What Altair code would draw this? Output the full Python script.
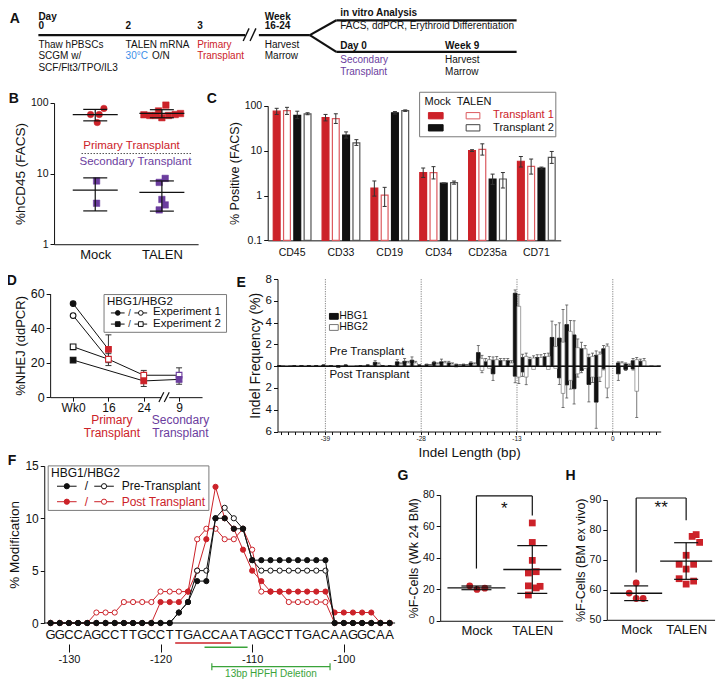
import altair as alt
import pandas as pd

FONT = "Liberation Sans"
INK = "#111111"
RED = "#cc2229"
RED_OPEN = "#dc5a5f"
PURPLE = "#6b3d9e"
BLUE = "#3b8ee8"
GREEN = "#3aa33a"
FRAME = "#7a7a7a"
ERR = "#333333"

W, H = 708, 672


def X(rx):
    return round(0.98 * (rx - 2), 2)


def Y(ry):
    return round(0.968 * ry + 1, 2)


dummy = pd.DataFrame({"d": [0]})


def ptext(txt, rx, ry, size=11, color=INK, weight="normal", align="left"):
    return alt.Chart(dummy).mark_text(
        text=txt, font=FONT, fontSize=size, color=color, fontWeight=weight,
        align=align, baseline="middle").encode(x=alt.value(X(rx)), y=alt.value(Y(ry)))


def pline(x1, y1, x2, y2, color=INK, width=1.0, dash=None):
    m = dict(color=color, strokeWidth=width)
    if dash:
        m["strokeDash"] = dash
    return alt.Chart(dummy).mark_rule(**m).encode(
        x=alt.value(X(x1)), y=alt.value(Y(y1)), x2=alt.value(X(x2)), y2=alt.value(Y(y2)))


def prect(x1, y1, x2, y2, fill="white", stroke=None, width=1.0):
    m = dict(fill=fill, fillOpacity=1)
    if stroke:
        m.update(stroke=stroke, strokeWidth=width)
    return alt.Chart(dummy).mark_rect(**m).encode(
        x=alt.value(X(x1)), y=alt.value(Y(y1)), x2=alt.value(X(x2)), y2=alt.value(Y(y2)))


def ppoint(rx, ry, shape, fill, stroke, size=30):
    return alt.Chart(dummy).mark_point(
        shape=shape, size=size, filled=True, fill=fill, stroke=stroke,
        strokeWidth=1, opacity=1).encode(x=alt.value(X(rx)), y=alt.value(Y(ry)))


def yaxis(rx, **k):
    base = dict(orient="left", offset=-X(rx), tickSize=4, labelPadding=2,
                titlePadding=3, labelFontSize=11, titleFontSize=13)
    base.update(k)
    return alt.Axis(**base)


def xaxis(ry, **k):
    base = dict(orient="bottom", offset=round(Y(ry) - H, 2), tickSize=4, labelPadding=2,
                labelFontSize=11, titleFontSize=13, labelAngle=0, title=None)
    base.update(k)
    return alt.Axis(**base)


# ======================= Panel A : timeline =======================
A_seg_x1 = [33, 258, 310, 337, 310, 337]
A_seg_y1 = [27, 27, 27, 11.7, 27, 44.3]
A_seg_x2 = [244, 310, 337, 521, 337, 521]
A_seg_y2 = [27, 27, 11.7, 11.7, 44.3, 44.3]
A_brk_x1 = [242, 249]
A_brk_y1 = [33, 33]
A_brk_x2 = [248, 255]
A_brk_y2 = [20, 20]
A_text = ["Day", "0", "2", "3", "Week", "16-24",
          "Thaw hPBSCs", "SCGM w/", "SCF/Flt3/TPO/IL3",
          "TALEN mRNA", "30°C", "O/N",
          "Primary", "Transplant", "Harvest", "Marrow",
          "in vitro Analysis", "FACS, ddPCR, Erythroid Differentiation",
          "Day 0", "Week 9", "Secondary", "Transplant", "Harvest", "Marrow"]
A_tx = [33, 33, 122, 195, 264, 264, 33, 33, 33, 122, 122, 149, 195, 195, 264, 264,
        341, 341, 341, 448, 341, 341, 448, 448]
A_ty = [8, 18, 18, 18, 8, 18, 37, 49, 61, 37, 49, 49, 37, 49, 37, 49,
        4, 18, 38, 38, 53, 65, 53, 65]
A_tcol = [INK] * 10 + [BLUE, INK, RED, RED, INK, INK, INK, INK, INK, INK,
                       PURPLE, PURPLE, INK, INK]
A_tbold = [1, 1, 1, 1, 1, 1, 0, 0, 0, 0, 0, 0, 0, 0, 0, 0, 1, 0, 1, 1, 0, 0, 0, 0]

sxA = alt.Scale(domain=[0, 726], range=[X(0), X(726)])
syA = alt.Scale(domain=[0, 80], range=[Y(0), Y(80)])
dfA_seg = pd.DataFrame(dict(x1=A_seg_x1, y1=A_seg_y1, x2=A_seg_x2, y2=A_seg_y2))
dfA_brk = pd.DataFrame(dict(x1=A_brk_x1, y1=A_brk_y1, x2=A_brk_x2, y2=A_brk_y2))
dfA_txt = pd.DataFrame(dict(t=A_text, x=A_tx, y=A_ty, c=A_tcol, b=A_tbold))


def a_rule(df, width):
    return alt.Chart(df).mark_rule(color=INK, strokeWidth=width).encode(
        x=alt.X("x1:Q", scale=sxA, axis=None), y=alt.Y("y1:Q", scale=syA, axis=None),
        x2="x2:Q", y2="y2:Q")


def a_text(bold):
    return alt.Chart(dfA_txt).transform_filter(f"datum.b == {bold}").mark_text(
        font=FONT, fontSize=10, align="left", baseline="middle",
        fontWeight="bold" if bold else "normal").encode(
        x=alt.X("x:Q", scale=sxA, axis=None), y=alt.Y("y:Q", scale=syA, axis=None),
        text="t:N", color=alt.Color("c:N", scale=None))


panelA = [a_rule(dfA_seg, 2.2), a_rule(dfA_brk, 1.4), a_text(1), a_text(0)]

# ======================= Panel B : %hCD45 =======================
B_mock_pri = [83.6, 68.5, 68.5, 52.7]
B_mock_pri_dx = [0.13, -0.07, 0.06, 0.03]
B_talen_pri = [67.9, 66.4, 66.4, 76.9, 61.7, 93.0, 66.4, 68.5, 70.7]
B_talen_pri_dx = [-0.27, -0.18, -0.09, -0.05, 0.0, 0.06, 0.1, 0.2, 0.28]
B_mock_sec = [7.85, 3.8]
B_mock_sec_dx = [0.02, 0.02]
B_talen_sec = [8.55, 7.5, 4.3, 3.6, 3.06]
B_talen_sec_dx = [0.05, -0.04, 0.0, 0.05, -0.04]

rows = []
for grp, ph, vals, dxs, shp, col in [
        (0, "pri", B_mock_pri, B_mock_pri_dx, "circle", RED),
        (1, "pri", B_talen_pri, B_talen_pri_dx, "square", RED),
        (0, "sec", B_mock_sec, B_mock_sec_dx, "square", PURPLE),
        (1, "sec", B_talen_sec, B_talen_sec_dx, "square", PURPLE)]:
    for v, d in zip(vals, dxs):
        rows.append(dict(grp=grp, ph=ph, val=v, xp=grp + d, shp=shp, col=col))
dfB = pd.DataFrame(rows)
stB = dfB.groupby(["grp", "ph"])["val"].agg(["mean", "std"]).reset_index()
stB["lo"] = stB["mean"] - stB["std"]
stB["hi"] = stB["mean"] + stB["std"]

sxB = alt.Scale(domain=[-0.618, 1.544], range=[X(49), X(196)])
syB = alt.Scale(type="log", domain=[1, 100], range=[Y(243), Y(97)])
B_pts = alt.Chart(dfB).mark_point(filled=True, size=42, opacity=1, strokeWidth=0.5).encode(
    x=alt.X("xp:Q", scale=sxB, axis=xaxis(243, values=[0, 1], ticks=False, labelFontSize=13,
                                          labelPadding=4,
                                          labelExpr="datum.value == 0 ? 'Mock' : 'TALEN'")),
    y=alt.Y("val:Q", scale=syB, axis=yaxis(49, values=[1, 10, 100], format="d",
                                           title="%hCD45 (FACS)", titleFontSize=13.5,
                                           labelFontSize=10.5)),
    shape=alt.Shape("shp:N", scale=None), fill=alt.Fill("col:N", scale=None),
    stroke=alt.Stroke("col:N", scale=None))


def stat_layers(df, sx, sy, wmean, wcap):
    xs = alt.X("grp:Q", scale=sx, axis=None)
    return [
        alt.Chart(df).mark_rule(color=INK, strokeWidth=1.2).encode(
            x=xs, y=alt.Y("lo:Q", scale=sy, axis=None), y2="hi:Q"),
        alt.Chart(df).mark_tick(orient="horizontal", size=wmean, thickness=1.3, color=INK,
                                opacity=1).encode(x=xs, y=alt.Y("mean:Q", scale=sy, axis=None)),
        alt.Chart(df).mark_tick(orient="horizontal", size=wcap, thickness=1.2, color=INK,
                                opacity=1).encode(x=xs, y=alt.Y("lo:Q", scale=sy, axis=None)),
        alt.Chart(df).mark_tick(orient="horizontal", size=wcap, thickness=1.2, color=INK,
                                opacity=1).encode(x=xs, y=alt.Y("hi:Q", scale=sy, axis=None)),
    ]


panelB = [
    B_pts, *stat_layers(stB, sxB, syB, 45, 24),
    pline(77, 149.3, 190, 149.3, color="#555555", width=1, dash=[1.5, 1.5]),
    ptext("Primary Transplant", 128, 141.5, size=11.5, color=RED, align="center"),
    ptext("Secondary Transplant", 132, 158.5, size=11.5, color=PURPLE, align="center"),
]

# ======================= Panel C : FACS lineages =======================
C_cats = ["CD45", "CD33", "CD19", "CD34", "CD235a", "CD71"]
C_groups = ["Mock T1", "TALEN T1", "Mock T2", "TALEN T2"]
C_mock_t1 = [75.7, 54.5, 1.47, 3.25, 10.0, 5.8]
C_talen_t1 = [78.4, 51.8, 1.02, 3.25, 10.7, 4.45]
C_mock_t2 = [61.1, 22.2, 69.9, 1.88, 2.33, 4.1]
C_talen_t2 = [66.4, 14.9, 78.4, 1.93, 2.33, 7.1]
C_mock_t1_lo = [64.2, 46.1, 0.97, 2.53, 9.6, 4.31]
C_mock_t1_hi = [87.9, 64.2, 2.11, 4.1, 10.5, 7.45]
C_talen_t1_lo = [64.2, 40.4, 0.57, 2.34, 7.96, 3.0]
C_talen_t1_hi = [92.4, 66.4, 1.52, 4.4, 14.2, 6.5]
C_mock_t2_lo = [51.8, 19.1, 65.5, 1.86, 1.77, 3.9]
C_mock_t2_hi = [75.8, 26.2, 74.4, 1.9, 3.0, 4.3]
C_talen_t2_lo = [63.2, 13.1, 75.0, 1.79, 1.47, 5.2]
C_talen_t2_hi = [69.9, 17.6, 81.0, 2.1, 3.25, 9.6]
C_fill = ["#cc2229", "white", "#111111", "white"]
C_stroke = ["#cc2229", RED_OPEN, "#111111", "#555555"]

rows = []
for gi, (g, v, lo, hi) in enumerate(zip(
        C_groups, [C_mock_t1, C_talen_t1, C_mock_t2, C_talen_t2],
        [C_mock_t1_lo, C_talen_t1_lo, C_mock_t2_lo, C_talen_t2_lo],
        [C_mock_t1_hi, C_talen_t1_hi, C_mock_t2_hi, C_talen_t2_hi])):
    for ci, c in enumerate(C_cats):
        rows.append(dict(cat=c, grp=g, val=v[ci], lo=lo[ci], hi=hi[ci], base=0.1,
                         fc=C_fill[gi], sc=C_stroke[gi]))
dfC = pd.DataFrame(rows)

sxC = alt.Scale(domain=C_cats, range=[X(267), X(566)], paddingInner=0, paddingOuter=0)
syC = alt.Scale(type="log", domain=[0.1, 100], range=[Y(239), Y(100)])
xoC = alt.XOffset("grp:N", scale=alt.Scale(domain=C_groups, paddingInner=0.335, paddingOuter=0.54))
C_bars = alt.Chart(dfC).mark_bar(strokeWidth=1.2, opacity=1).encode(
    x=alt.X("cat:N", scale=sxC,
            axis=xaxis(239, ticks=False, labelPadding=7, labelFontSize=10.5)),
    xOffset=xoC,
    y=alt.Y("val:Q", scale=syC,
            axis=yaxis(267, values=[0.1, 1, 10, 100], title="% Positive (FACS)",
                       labelFontSize=10.5, titleFontSize=12.5,
                       labelExpr="datum.value < 1 ? '0.1' : format(datum.value, 'd')")),
    y2="base:Q",
    fill=alt.Fill("fc:N", scale=None), stroke=alt.Stroke("sc:N", scale=None))
xC2 = alt.X("cat:N", scale=sxC, axis=None)
C_err = alt.Chart(dfC).mark_rule(color=ERR, strokeWidth=1).encode(
    x=xC2, xOffset=xoC, y=alt.Y("lo:Q", scale=syC, axis=None), y2="hi:Q")
C_cap1 = alt.Chart(dfC).mark_tick(orient="horizontal", size=4, thickness=1, color=ERR,
                                  opacity=1).encode(
    x=xC2, xOffset=xoC, y=alt.Y("hi:Q", scale=syC, axis=None))
C_cap2 = alt.Chart(dfC).mark_tick(orient="horizontal", size=4, thickness=1, color=ERR,
                                  opacity=1).encode(
    x=xC2, xOffset=xoC, y=alt.Y("lo:Q", scale=syC, axis=None))

panelC = [
    C_bars, C_err, C_cap1, C_cap2,
    prect(422, 86, 561, 132, fill="white", stroke=FRAME, width=1),
    ptext("Mock", 427, 96, size=11),
    ptext("TALEN", 460, 96, size=11),
    prect(431, 107, 446, 113.5, fill=RED, stroke=RED),
    prect(469.5, 107, 483.5, 113.5, fill="white", stroke=RED_OPEN),
    ptext("Transplant 1", 497, 110, size=11, color=RED),
    prect(431, 119.5, 446, 126, fill="#111111", stroke="#111111"),
    prect(469.5, 119.5, 483.5, 126, fill="white", stroke="#444444"),
    ptext("Transplant 2", 497, 122.5, size=11),
]

# ======================= Panel D : %NHEJ =======================
D_tp = ["Wk0", "16", "24", "9"]
D_line_series = ["L1", "L1", "L2", "L2", "L2", "L2", "L3", "L3", "L4", "L4", "L4"]
D_line_tp = ["Wk0", "16", "Wk0", "16", "24", "9", "Wk0", "16", "Wk0", "24", "9"]
D_line_val = [54.2, 27.7, 47.3, 22.0, 12.7, 12.7, 29.2, 22.0, 21.5, 9.4, 10.3]
D_mk_tp = ["Wk0", "Wk0", "Wk0", "Wk0", "16", "16", "24", "24", "9", "9"]
D_mk_val = [54.2, 47.3, 29.2, 21.5, 27.7, 22.0, 12.7, 9.4, 12.7, 10.3]
D_mk_shape = ["circle", "circle", "square", "square", "square", "square",
              "square", "square", "square", "square"]
D_mk_filled = [1, 0, 0, 1, 1, 0, 0, 1, 0, 1]
D_mk_color = [INK, INK, INK, INK, RED, RED, RED, RED, PURPLE, PURPLE]
D_err_tp = ["16", "16", "24", "24", "9", "9"]
D_err_lo = [20.0, 18.3, 10.0, 6.2, 9.0, 7.5]
D_err_hi = [36.1, 25.2, 15.5, 12.5, 17.0, 13.0]

dfD_line = pd.DataFrame(dict(s=D_line_series, tp=D_line_tp, val=D_line_val,
                             o=list(range(len(D_line_tp)))))
dfD_mk = pd.DataFrame(dict(tp=D_mk_tp, val=D_mk_val, shp=D_mk_shape,
                           fc=[c if f else "white" for c, f in zip(D_mk_color, D_mk_filled)],
                           sc=D_mk_color))
dfD_err = pd.DataFrame(dict(tp=D_err_tp, lo=D_err_lo, hi=D_err_hi))

sxD = alt.Scale(type="point", domain=D_tp, range=[X(45), X(200)], padding=0.65)
syD = alt.Scale(domain=[0, 60], range=[Y(401), Y(294)])
xD = alt.X("tp:N", scale=sxD, axis=None)
D_lines = alt.Chart(dfD_line).mark_line(color=INK, strokeWidth=1).encode(
    x=alt.X("tp:N", scale=sxD, axis=xaxis(401, labelFontSize=12, labelPadding=1)),
    y=alt.Y("val:Q", scale=syD, axis=yaxis(45, values=[0, 20, 40, 60], labelFontSize=12.5,
                                           title="%NHEJ (ddPCR)", titleFontSize=13)),
    detail="s:N", order="o:Q")
D_err = alt.Chart(dfD_err).mark_rule(color=ERR, strokeWidth=1).encode(
    x=xD, y=alt.Y("lo:Q", scale=syD, axis=None), y2="hi:Q")
D_cap1 = alt.Chart(dfD_err).mark_tick(orient="horizontal", size=6, thickness=1, color=ERR,
                                      opacity=1).encode(x=xD, y=alt.Y("lo:Q", scale=syD, axis=None))
D_cap2 = alt.Chart(dfD_err).mark_tick(orient="horizontal", size=6, thickness=1, color=ERR,
                                      opacity=1).encode(x=xD, y=alt.Y("hi:Q", scale=syD, axis=None))
D_mk = alt.Chart(dfD_mk).mark_point(filled=True, size=32, opacity=1, strokeWidth=1.1).encode(
    x=xD, y=alt.Y("val:Q", scale=syD, axis=None),
    shape=alt.Shape("shp:N", scale=None), fill=alt.Fill("fc:N", scale=None),
    stroke=alt.Stroke("sc:N", scale=None))

panelD = [
    D_lines, D_err, D_cap1, D_cap2, D_mk,
    prect(158.5, 398.5, 166.5, 403.5, fill="white"),
    pline(156, 406, 161, 396, width=1.2), pline(161.5, 406, 166.5, 396, width=1.2),
    ptext("Primary", 108, 425, size=12, color=RED, align="center"),
    ptext("Transplant", 108, 438.5, size=12, color=RED, align="center"),
    ptext("Secondary", 178, 425, size=12, color=PURPLE, align="center"),
    ptext("Transplant", 178, 438.5, size=12, color=PURPLE, align="center"),
    prect(100, 295, 225, 334, fill="white", stroke=FRAME),
    ptext("HBG1/HBG2", 103, 302.5, size=11.5),
    pline(107, 314, 121, 314, width=1), ppoint(114, 314, "circle", INK, INK, 22),
    ptext("/", 126, 314, size=9, align="center"),
    pline(131, 314, 144, 314, width=1), ppoint(137.5, 314, "circle", "white", INK, 22),
    ptext("Experiment 1", 150, 313.5, size=11.5),
    pline(107, 325.5, 121, 325.5, width=1), ppoint(114, 325.5, "square", INK, INK, 22),
    ptext("/", 126, 325.5, size=9, align="center"),
    pline(131, 325.5, 144, 325.5, width=1), ppoint(137.5, 325.5, "square", "white", INK, 22),
    ptext("Experiment 2", 150, 325.5, size=11.5),
]

# ======================= Panel E : indel spectrum =======================
E_idx = list(range(52))
E_tick_labels = {6: "-39", 19: "-28", 32: "-13", 45: "0"}
E_pre1 = [0.05, 0, 0.05, 0.05, 0.05, 0.05, 0.1, 0.05, 0.05, 0.1,
          0, 0.05, 0.1, 0.35, 0.05, 0.05, 0.4, 0.45, 0.55, 0.1,
          0.15, 0.35, 0.4, 0.3, 0.15, 0.15, 0.3, 1.25, 0.4, 0.55,
          0.5, 0.5, 6.7, 0.8, 0.62, 0.8, 0.86, 2.64, 2.58, 3.82,
          2.87, 1.6, 0.8, 1.0, 1.6, 0, 0.3, 0.2, 0.5, 0.45, 0, 0]
E_pre1_err = [0, 0, 0, 0, 0, 0, 0.05, 0, 0, 0.05,
              0, 0, 0.05, 0.15, 0, 0, 0.2, 0.25, 0.3, 0.05,
              0.05, 0.1, 0.25, 0.15, 0.05, 0.05, 0.1, 0.65, 0.3, 0.3,
              0.2, 0.2, 0.3, 0.3, 0.2, 0.25, 0.3, 1.5, 1.4, 1.8,
              1.3, 0.6, 0.3, 0.4, 0.3, 0, 0.1, 0.1, 0.2, 0.2, 0, 0]
E_pre2 = [0.05, 0.05, 0, 0, 0, 0, 0.05, 0, 0.05, 0,
          0.05, 0.05, 0.05, 0.2, 0, 0.05, 0.2, 0.3, 0.3, 0.05,
          0.1, 0.2, 0.3, 0.2, 0.1, 0.1, 0.2, 0.7, 0.6, 0.6,
          0.5, 0.3, 5.5, 0.9, 0.75, 0.8, 0.9, 1.8, 2.2, 3.2,
          1.7, 1.6, 0.9, 1.1, 1.84, 0, 0.3, 0.1, 0.6, 0.5, 0.05, 0.05]
E_pre2_err = [0, 0, 0, 0, 0, 0, 0, 0, 0, 0,
              0, 0, 0, 0.1, 0, 0, 0.1, 0.15, 0.15, 0,
              0.05, 0.1, 0.15, 0.1, 0.05, 0.05, 0.1, 0.3, 0.3, 0.3,
              0.2, 0.2, 1.1, 0.3, 0.2, 0.25, 0.3, 2.0, 3.0, 1.0,
              0.8, 0.3, 0.3, 0.2, 0.2, 0, 0.1, 0.1, 0.2, 0.2, 0, 0]
E_post1 = [0, 0, 0, 0, 0, 0, 0, 0, 0.1, 0,
           0, 0, 0, 0, 0, 0, 0, 0, 0, 0,
           0, 0, 0, 0, 0.05, 0, 0, 0, 0, 0.7,
           0, 0, 0.92, 0.53, 0, 0, 0, 0, 1.07, 1.72,
           2.07, 0.4, 1.68, 3.3, 0.24, 0, 0.7, 0.3, 0.25, 0, 0, 0]
E_post1_err = [0, 0, 0, 0, 0, 0, 0, 0, 0, 0,
               0, 0, 0, 0, 0, 0, 0, 0, 0, 0,
               0, 0, 0, 0, 0, 0, 0, 0, 0, 0.6,
               0, 0, 0.6, 0.4, 0, 0, 0, 0, 0.6, 1.2,
               1.4, 0.2, 1.6, 2.4, 0.1, 0, 0.6, 0.1, 0.1, 0, 0, 0]
E_post2 = [0, 0, 0, 0, 0, 0, 0, 0, 0, 0,
           0, 0, 0, 0, 0, 0, 0, 0, 0, 0,
           0, 0, 0, 0, 0, 0, 0, 0.4, 0.2, 0,
           0, 0, 1.0, 1.0, 0.3, 0, 0.3, 0.2, 2.5, 1.3,
           0.7, 0.2, 1.0, 1.0, 2.0, 0, 0, 0, 2.3, 0, 0, 0]
E_post2_err = [0, 0, 0, 0, 0, 0, 0, 0, 0, 0,
               0, 0, 0, 0, 0, 0, 0, 0, 0, 0,
               0, 0, 0, 0, 0, 0, 0, 0.2, 0, 0,
               0, 0, 0.6, 0.7, 0, 0, 0, 0, 1.3, 0.8,
               0.3, 0, 0.5, 0.4, 0.9, 0, 0, 0, 2.4, 0, 0, 0]
E_vlines = [6, 19, 32, 45]

rows = []
for ser, sign, vals, errs in [("HBG1", 1, E_pre1, E_pre1_err), ("HBG2", 1, E_pre2, E_pre2_err),
                              ("HBG1", -1, E_post1, E_post1_err), ("HBG2", -1, E_post2, E_post2_err)]:
    for i in E_idx:
        if vals[i] > 0:
            rows.append(dict(idx=i, ser=ser, val=sign * vals[i], tip=sign * (vals[i] + errs[i]),
                             err=errs[i], base=0,
                             fc=INK if ser == "HBG1" else "white",
                             sc=INK if ser == "HBG1" else "#8c8c8c"))
dfE = pd.DataFrame(rows)
dfE_err = dfE[dfE["err"] > 0]
dfE_v = pd.DataFrame(dict(idx=E_vlines))

sxE = alt.Scale(domain=E_idx, range=[X(277), X(668)], paddingInner=0, paddingOuter=0)
syE = alt.Scale(domain=[-6, 8], range=[Y(436.5), Y(279)])
xoE = alt.XOffset("ser:N", scale=alt.Scale(domain=["HBG1", "HBG2"], paddingInner=0, paddingOuter=0))
lab_expr = " : ".join([f"datum.value == {k} ? '{v}'" for k, v in E_tick_labels.items()]) + " : ''"
E_vl = alt.Chart(dfE_v).mark_rule(color="#777777", strokeWidth=0.9, strokeDash=[1.2, 1.2]).encode(
    x=alt.X("idx:O", scale=sxE,
            axis=xaxis(436.5, tickSize=3, labelFontSize=6.5, labelPadding=1, labelExpr=lab_expr,
                       title="Indel Length (bp)", titleFontSize=13.5, titlePadding=3)),
    y=alt.value(Y(279)), y2=alt.value(Y(436.5)))
E_bars = alt.Chart(dfE).mark_bar(strokeWidth=0.8, opacity=1).encode(
    x=alt.X("idx:O", scale=sxE, axis=None), xOffset=xoE,
    y=alt.Y("val:Q", scale=syE,
            axis=yaxis(277, values=[-6, -4, -2, 0, 2, 4, 6, 8], labelFontSize=11.5,
                       labelExpr="format(abs(datum.value), 'd')",
                       title="Indel Frequency (%)", titleFontSize=14)),
    y2="base:Q", fill=alt.Fill("fc:N", scale=None), stroke=alt.Stroke("sc:N", scale=None))
E_err = alt.Chart(dfE_err).mark_rule(color="#555555", strokeWidth=0.8).encode(
    x=alt.X("idx:O", scale=sxE, axis=None), xOffset=xoE,
    y=alt.Y("val:Q", scale=syE, axis=None), y2="tip:Q")
E_cap = alt.Chart(dfE_err).mark_tick(orient="horizontal", size=3, thickness=0.8, color="#555555",
                                     opacity=1).encode(
    x=alt.X("idx:O", scale=sxE, axis=None), xOffset=xoE, y=alt.Y("tip:Q", scale=syE, axis=None))

panelE = [
    E_vl, E_bars, E_err, E_cap,
    pline(277, 369, 668, 369, width=1.5),
    prect(330, 314.5, 339, 320.5, fill=INK, stroke=INK),
    ptext("HBG1", 340, 317.5, size=10.5),
    prect(330, 326, 339, 332, fill="white", stroke="#777777"),
    ptext("HBG2", 340, 329, size=10.5),
    ptext("Pre Transplant", 330, 354, size=11.5),
    ptext("Post Transplant", 330, 378, size=11.5),
]

# ======================= Panel F : modification profile =======================
F_pos = list(range(-132, -94))
F_seq = list("GGCCAGCCTTGCCTTGACCAATAGCCTTGACAAGGCAA")
F_pre_hbg1 = [0] * 14 + [1, 2, 4, 4, 10, 10, 9, 9, 6] + [6] * 8 + [0] * 7
F_pre_hbg2 = [0] * 14 + [1, 2, 5, 5, 10, 11, 10, 9, 6] + [5] * 8 + [0] * 7
F_post_hbg1 = [0] * 12 + [2, 2, 2, 3, 5, 8, 13, 10, 9, 7, 5, 4] + [3] * 7 + [1] * 5 + [0, 0]
F_post_hbg2 = [0] * 5 + [1] * 3 + [2] * 4 + [3] * 4 + [8, 9, 9, 8, 8, 9, 7, 3, 3, 3] + [2] * 5 + [0] * 7
F_red_bar = [-118.4, -112.3]
F_green_bar = [-115.2, -110.5]
F_hpfh = [-114.4, -101.5]

sxF = alt.Scale(domain=[-132.69, -94.4], range=[X(39), X(397)])
syF = alt.Scale(domain=[0, 15], range=[Y(634.3), Y(472)])
dfF = pd.DataFrame(dict(pos=F_pos, b=F_seq))


def f_series(vals, color, filled, first=False):
    d = pd.DataFrame(dict(pos=F_pos, val=vals))
    if first:
        xe = alt.X("pos:Q", scale=sxF,
                   axis=xaxis(656, values=[-130, -120, -110, -100], domain=False, tickSize=8,
                              labelFontSize=11, labelPadding=1,
                              labelExpr="'-' + format(abs(datum.value), 'd')"))
        ye = alt.Y("val:Q", scale=syF,
                   axis=yaxis(39, values=[0, 5, 10, 15], labelFontSize=12,
                              title="% Modification", titleFontSize=13.5))
    else:
        xe = alt.X("pos:Q", scale=sxF, axis=None)
        ye = alt.Y("val:Q", scale=syF, axis=None)
    ln = alt.Chart(d).mark_line(color=color, strokeWidth=1).encode(x=xe, y=ye)
    pt = alt.Chart(d).mark_point(shape="circle", size=27, filled=True, opacity=1, strokeWidth=1,
                                 fill=color if filled else "white", stroke=color).encode(
        x=alt.X("pos:Q", scale=sxF, axis=None), y=alt.Y("val:Q", scale=syF, axis=None))
    return [ln, pt]


def f_hbar(xs, ry, color, width=1.5):
    d = pd.DataFrame(dict(x1=[xs[0]], x2=[xs[1]]))
    return alt.Chart(d).mark_rule(color=color, strokeWidth=width).encode(
        x=alt.X("x1:Q", scale=sxF, axis=None), x2="x2:Q", y=alt.value(Y(ry)))


def f_vbar(xv, ry1, ry2, color):
    d = pd.DataFrame(dict(x=[xv]))
    return alt.Chart(d).mark_rule(color=color, strokeWidth=1.2).encode(
        x=alt.X("x:Q", scale=sxF, axis=None), y=alt.value(Y(ry1)), y2=alt.value(Y(ry2)))


dfF_lab = pd.DataFrame(dict(x=[sum(F_hpfh) / 2], t=["13bp HPFH Deletion"]))
panelF = [
    *f_series(F_post_hbg2, RED, False, first=True), *f_series(F_post_hbg1, RED, True),
    *f_series(F_pre_hbg2, INK, False), *f_series(F_pre_hbg1, INK, True),
    pline(39, 634.3, 397, 634.3, width=1),
    alt.Chart(dfF).mark_text(fontSize=13, font=FONT, color=INK, baseline="middle").encode(
        x=alt.X("pos:Q", scale=sxF, axis=None), y=alt.value(Y(647)), text="b:N"),
    f_hbar(F_red_bar, 655, RED), f_hbar(F_green_bar, 659.3, GREEN),
    f_hbar(F_hpfh, 679.3, GREEN, 1.2), f_vbar(F_hpfh[0], 676, 683, GREEN),
    f_vbar(F_hpfh[1], 676, 683, GREEN),
    alt.Chart(dfF_lab).mark_text(fontSize=10, font=FONT, color=GREEN, baseline="middle").encode(
        x=alt.X("x:Q", scale=sxF, axis=None), y=alt.value(Y(687)), text="t:N"),
    prect(43, 472, 207, 518, fill="white", stroke=FRAME),
    ptext("HBG1/HBG2", 46, 479.5, size=12),
    pline(52, 493, 72, 493), ppoint(62, 493, "circle", INK, INK, 27),
    ptext("/", 82, 493, size=12, align="center"),
    pline(90, 493, 110, 493), ppoint(100, 493, "circle", "white", INK, 27),
    ptext("Pre-Transplant", 118, 493, size=12),
    pline(52, 509, 72, 509, color=RED), ppoint(62, 509, "circle", RED, RED, 27),
    ptext("/", 82, 509, size=12, align="center", color=RED),
    pline(90, 509, 110, 509, color=RED), ppoint(100, 509, "circle", "white", RED, 27),
    ptext("Post Transplant", 118, 509, size=12, color=RED),
]

# ======================= Panels G & H : F-cells =======================
G_mock = [22.2, 19.9, 20.7]
G_mock_dx = [-0.12, 0.01, 0.15]
G_talen = [62.2, 49.8, 38.4, 30.4, 31.2, 22.2, 21.9, 20.9, 16.4]
G_talen_dx = [0.0, 0.0, 0.0, -0.07, 0.07, -0.07, 0.14, 0.07, -0.07]
G_bracket_x1 = [0, 0, 1]
G_bracket_x2 = [0, 1, 1]
G_bracket_y1 = [33.2, 79.4, 79.4]
G_bracket_y2 = [79.4, 79.4, 67.0]

H_mock = [62.3, 58.9, 57.1, 57.1]
H_mock_dx = [0.0, -0.14, 0.0, 0.14]
H_talen = [77.8, 78.4, 75.8, 71.5, 68.5, 68.5, 66.9, 63.7, 62.9, 61.9]
H_talen_dx = [0.12, 0.2, 0.27, 0.0, -0.14, 0.15, 0.0, -0.14, 0.15, 0.0]
H_bracket_x1 = [0, 0, 1]
H_bracket_x2 = [0, 1, 1]
H_bracket_y1 = [65.8, 90.6, 90.6]
H_bracket_y2 = [90.6, 90.6, 83.2]


def fcell_panel(mock, mdx, talen, tdx, bx1, bx2, by1, by2, star, star_y,
                sx, sy, ax_x, ax_y, yvals, title, wmean, wcap):
    rows = [dict(grp=0, xp=d, val=v, shp="circle") for v, d in zip(mock, mdx)]
    rows += [dict(grp=1, xp=1 + d, val=v, shp="square") for v, d in zip(talen, tdx)]
    df = pd.DataFrame(rows)
    st = df.groupby("grp")["val"].agg(["mean", "std"]).reset_index()
    st["lo"] = st["mean"] - st["std"]
    st["hi"] = st["mean"] + st["std"]
    pts = alt.Chart(df).mark_point(filled=True, size=46, opacity=1, color=RED).encode(
        x=alt.X("xp:Q", scale=sx,
                axis=xaxis(ax_y, values=[0, 1], ticks=False, labelFontSize=13, labelPadding=4,
                           labelExpr="datum.value == 0 ? 'Mock' : 'TALEN'")),
        y=alt.Y("val:Q", scale=sy,
                axis=yaxis(ax_x, values=yvals, labelFontSize=10.5, title=title,
                           titleFontSize=12.5, titlePadding=2)),
        shape=alt.Shape("shp:N", scale=None))
    br = pd.DataFrame(dict(x1=bx1, x2=bx2, y1=by1, y2=by2))
    brk = alt.Chart(br).mark_rule(color=INK, strokeWidth=1.2).encode(
        x=alt.X("x1:Q", scale=sx, axis=None), x2="x2:Q",
        y=alt.Y("y1:Q", scale=sy, axis=None), y2="y2:Q")
    sd = pd.DataFrame(dict(x=[0.5], y=[star_y], t=[star]))
    stx = alt.Chart(sd).mark_text(fontSize=17, font=FONT, color=INK, baseline="middle").encode(
        x=alt.X("x:Q", scale=sx, axis=None), y=alt.Y("y:Q", scale=sy, axis=None), text="t:N")
    return [pts, *stat_layers(st, sx, sy, wmean, wcap), brk, stx]


sxG = alt.Scale(domain=[-0.649, 1.544], range=[X(443), X(568)])
syG = alt.Scale(domain=[0, 80], range=[Y(632), Y(502)])
panelG = fcell_panel(G_mock, G_mock_dx, G_talen, G_talen_dx, G_bracket_x1, G_bracket_x2,
                     G_bracket_y1, G_bracket_y2, "*", 71.0, sxG, syG, 443, 632,
                     [0, 20, 40, 60, 80], "%F-Cells (Wk 24 BM)", 58, 30)
sxH = alt.Scale(domain=[-0.588, 1.569], range=[X(613), X(723)])
syH = alt.Scale(domain=[50, 90], range=[Y(631), Y(507)])
panelH = fcell_panel(H_mock, H_mock_dx, H_talen, H_talen_dx, H_bracket_x1, H_bracket_x2,
                     H_bracket_y1, H_bracket_y2, "**", 87.3, sxH, syH, 613, 631,
                     [50, 60, 70, 80, 90], "%F-Cells (BM ex vivo)", 52, 24)

# ======================= panel letters =======================
P_letters = ["A", "B", "C", "D", "E", "F", "G", "H"]
P_lx = [9, 8, 210, 6, 240, 6, 405, 576]
P_ly = [10, 93, 93, 281, 283, 467, 482, 482]
letters = [ptext(t, x, y, size=14, weight="bold", align="center")
           for t, x, y in zip(P_letters, P_lx, P_ly)]

layers = panelA + panelB + panelC + panelD + panelE + panelF + panelG + panelH + letters
chart = alt.layer(*layers).resolve_scale(
    x="independent", y="independent", xOffset="independent"
).properties(
    width=W, height=H, padding=0, autosize="none"
).configure_axis(
    labelFont=FONT, titleFont=FONT, labelColor=INK, titleColor=INK, domainColor=INK,
    tickColor=INK, grid=False, titleFontWeight="normal", domainWidth=1, tickWidth=1
).configure_view(stroke="transparent").configure_text(font=FONT)

chart.save("out.html", embed_options={"renderer": "svg", "actions": False})
